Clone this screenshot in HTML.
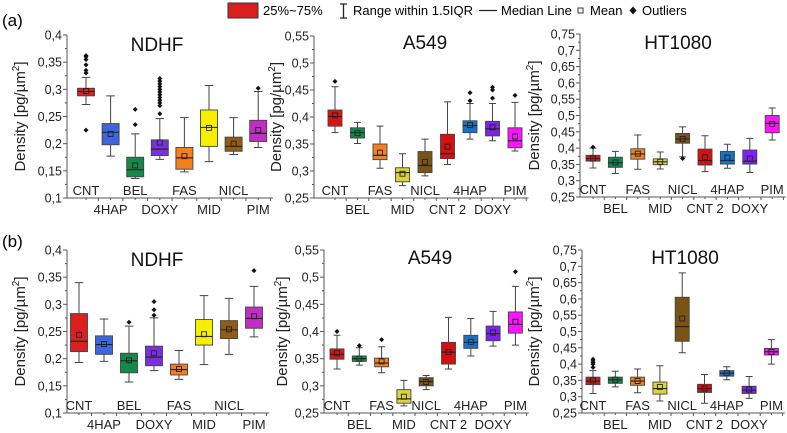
<!DOCTYPE html>
<html><head><meta charset="utf-8">
<style>
body{margin:0;background:#fff;}
svg{display:block;font-family:"Liberation Sans",Arial,sans-serif;}
</style></head>
<body>
<svg id="fig" width="787" height="433" viewBox="0 0 787 433" xmlns="http://www.w3.org/2000/svg">
  <g font-size="13">
    <rect x="228" y="3" width="30" height="15" fill="#d92020" stroke="#333"/>
    <text x="263" y="15">25%~75%</text>
    <path d="M340 4 h7 M343.5 4 v14 M340 18 h7" stroke="#222" stroke-width="1.3" fill="none"/>
    <text x="353" y="15">Range within 1.5IQR</text>
    <line x1="479" y1="10.5" x2="497" y2="10.5" stroke="#222" stroke-width="1.2"/>
    <text x="501" y="15">Median Line</text>
    <rect x="578" y="8" width="5" height="5" fill="none" stroke="#222" stroke-width="0.9"/>
    <text x="590" y="15">Mean</text>
    <path d="M633 6.5 l3.5 4 l-3.5 4 l-3.5 -4z" fill="#111"/>
    <text x="642" y="15">Outliers</text>
  </g>
  <text x="2" y="26" font-size="17">(a)</text>
  <text x="2" y="247" font-size="17">(b)</text>
</svg>
<script>
// ---- Data: row (a) NDHF ----
const aNdhfCats = ["CNT","4HAP","BEL","DOXY","FAS","MID","NICL","PIM"];
const aNdhfLo   = [0.272,0.177,0.136,0.171,0.148,0.167,0.180,0.193];
const aNdhfQ1   = [0.288,0.198,0.139,0.178,0.153,0.195,0.186,0.204];
const aNdhfMed  = [0.296,0.221,0.152,0.190,0.174,0.230,0.195,0.219];
const aNdhfQ3   = [0.302,0.237,0.175,0.207,0.193,0.262,0.212,0.243];
const aNdhfHi   = [0.322,0.288,0.218,0.246,0.248,0.307,0.248,0.296];
const aNdhfMean = [0.297,0.218,0.160,0.202,0.177,0.229,0.200,0.225];
const aNdhfOut  = [[0.225,0.33,0.335,0.345,0.355,0.36,0.362],[],[0.235,0.263],[0.255,0.27,0.275,0.28,0.285,0.29,0.295,0.30,0.305,0.31,0.315,0.32],[],[],[],[0.302]];
const aNdhfTicks = ["0,1","0,15","0,2","0,25","0,3","0,35","0,4"];
// ---- Data: row (a) A549 ----
const aA549Cats = ["CNT","BEL","FAS","MID","NICL","CNT 2","4HAP","DOXY","PIM"];
const aA549Lo   = [0.371,0.351,0.305,0.273,0.291,0.312,0.359,0.356,0.337];
const aA549Q1   = [0.383,0.361,0.321,0.280,0.297,0.323,0.371,0.365,0.343];
const aA549Med  = [0.401,0.371,0.329,0.297,0.310,0.332,0.384,0.378,0.356];
const aA549Q3   = [0.413,0.380,0.350,0.306,0.336,0.368,0.393,0.392,0.380];
const aA549Hi   = [0.456,0.390,0.383,0.332,0.359,0.428,0.425,0.425,0.427];
const aA549Mean = [0.403,0.370,0.334,0.295,0.317,0.345,0.385,0.381,0.364];
const aA549Out  = [[0.466],[],[],[],[],[],[0.430,0.445],[0.435,0.450,0.455],[0.440]];
const aA549Ticks = ["0,25","0,3","0,35","0,4","0,45","0,5","0,55"];
// ---- Data: row (a) HT1080 ----
const aHtCats = ["CNT","BEL","FAS","MID","NICL","CNT 2","4HAP","DOXY","PIM"];
const aHtLo   = [0.339,0.322,0.335,0.336,0.373,0.328,0.338,0.325,0.425];
const aHtQ1   = [0.360,0.341,0.366,0.349,0.415,0.348,0.351,0.351,0.447];
const aHtMed  = [0.368,0.355,0.382,0.358,0.428,0.362,0.362,0.360,0.476];
const aHtQ3   = [0.378,0.372,0.398,0.367,0.445,0.397,0.390,0.394,0.500];
const aHtHi   = [0.400,0.390,0.440,0.388,0.465,0.438,0.412,0.430,0.523];
const aHtMean = [0.368,0.356,0.383,0.358,0.428,0.372,0.371,0.368,0.474];
const aHtOut  = [[0.403],[],[],[],[0.368],[],[],[],[]];
const aHtTicks = ["0,25","0,3","0,35","0,4","0,45","0,5","0,55","0,6","0,65","0,7","0,75"];
// ---- Data: row (b) NDHF ----
const bNdhfCats = ["CNT","4HAP","BEL","DOXY","FAS","MID","NICL","PIM"];
const bNdhfLo   = [0.193,0.195,0.157,0.178,0.162,0.189,0.208,0.240];
const bNdhfQ1   = [0.213,0.208,0.174,0.187,0.170,0.225,0.237,0.256];
const bNdhfMed  = [0.232,0.226,0.196,0.203,0.180,0.241,0.253,0.274];
const bNdhfQ3   = [0.283,0.242,0.210,0.223,0.190,0.272,0.270,0.295];
const bNdhfHi   = [0.340,0.273,0.260,0.275,0.215,0.316,0.311,0.333];
const bNdhfMean = [0.244,0.227,0.197,0.210,0.181,0.245,0.254,0.278];
const bNdhfOut  = [[],[],[0.267],[0.28,0.29,0.305],[],[],[],[0.362]];
const bNdhfTicks = ["0,1","0,15","0,2","0,25","0,3","0,35","0,4"];
// ---- Data: row (b) A549 ----
const bA549Cats = ["CNT","BEL","FAS","MID","NICL","CNT 2","4HAP","DOXY","PIM"];
const bA549Lo   = [0.331,0.338,0.324,0.263,0.293,0.331,0.355,0.373,0.375];
const bA549Q1   = [0.349,0.345,0.335,0.268,0.300,0.340,0.369,0.383,0.397];
const bA549Med  = [0.358,0.350,0.342,0.276,0.308,0.362,0.380,0.396,0.413];
const bA549Q3   = [0.368,0.355,0.351,0.293,0.315,0.380,0.393,0.410,0.436];
const bA549Hi   = [0.393,0.370,0.372,0.310,0.319,0.426,0.424,0.437,0.483];
const bA549Mean = [0.360,0.350,0.345,0.280,0.307,0.362,0.381,0.398,0.418];
const bA549Out  = [[0.400],[0.374],[0.385],[],[],[],[],[],[0.510]];
const bA549Ticks = ["0,25","0,3","0,35","0,4","0,45","0,5","0,55"];
// ---- Data: row (b) HT1080 ----
const bHtCats = ["CNT","BEL","FAS","MID","NICL","CNT 2","4HAP","DOXY","PIM"];
const bHtLo   = [0.310,0.330,0.312,0.287,0.435,0.280,0.352,0.295,0.400];
const bHtQ1   = [0.337,0.341,0.335,0.308,0.470,0.313,0.363,0.310,0.428];
const bHtMed  = [0.348,0.352,0.348,0.325,0.515,0.325,0.372,0.320,0.438];
const bHtQ3   = [0.360,0.360,0.360,0.345,0.605,0.338,0.380,0.332,0.448];
const bHtHi   = [0.380,0.378,0.385,0.395,0.680,0.368,0.392,0.362,0.475];
const bHtMean = [0.350,0.352,0.348,0.330,0.540,0.325,0.372,0.322,0.437];
const bHtOut  = [[0.39,0.40,0.405,0.41,0.415],[],[],[],[],[],[],[],[]];
const bHtTicks = ["0,25","0,3","0,35","0,4","0,45","0,5","0,55","0,6","0,65","0,7","0,75"];

const NS = "http://www.w3.org/2000/svg";
const svg = document.getElementById("fig");
const colNdhf = {"CNT":"#dc1e1e","4HAP":"#3f65dc","BEL":"#14894a","DOXY":"#7a30e0","FAS":"#f67e1c","MID":"#f6f000","NICL":"#935c14","PIM":"#c22ec4","CNT 2":"#d01010"};
const colOther = {"CNT":"#d61616","4HAP":"#1873c6","BEL":"#0f8a4c","DOXY":"#7e22f0","FAS":"#f28026","MID":"#dcd436","NICL":"#7a5414","PIM":"#ff12ff","CNT 2":"#d41010"};

function mk(tag, attrs, parent){
  const e = document.createElementNS(NS, tag);
  for (const k in attrs) e.setAttribute(k, attrs[k]);
  parent.appendChild(e);
  return e;
}

function panel(cfg){
  const g = mk("g", {}, svg);
  
  
  const y = v => cfg.yBot - (v - cfg.vmin) / (cfg.vmax - cfg.vmin) * (cfg.yBot - cfg.yTop);
  const x = i => cfg.x0 + i * cfg.step;
  const n = cfg.cats.length;
  const xEnd = x(n - 1) + cfg.step * 0.6;
  const ax = mk("path", {d:`M${cfg.ax} ${cfg.yTop} V${cfg.yBot} H${xEnd}`, stroke:"#555", "stroke-width":1, fill:"none"}, g);
  
  
  const nt = cfg.ticks.length;
  for (let k = 0; k < nt; k++){
    const v = cfg.vmin + k * (cfg.vmax - cfg.vmin) / (nt - 1);
    const yy = y(v);
    mk("line", {x1:cfg.ax-4, x2:cfg.ax, y1:yy, y2:yy, stroke:"#555"}, g);
    if (k < nt - 1){
      const ym = y(v + (cfg.vmax - cfg.vmin) / (nt - 1) / 2);
      mk("line", {x1:cfg.ax-2, x2:cfg.ax, y1:ym, y2:ym, stroke:"#555"}, g);
    }
    const t = mk("text", {x:cfg.ax-5, y:yy+4.5, "text-anchor":"end", "font-size":12.5, fill:"#222"}, g);
    t.textContent = cfg.ticks[k];
    
    
  }
  const yt = mk("text", {x:0, y:0, "text-anchor":"middle", "font-size":15, fill:"#222",
    transform:`translate(${cfg.ytx},${(cfg.yTop+cfg.yBot)/2}) rotate(-90)`}, g);
  yt.innerHTML = 'Density [pg/µm<tspan font-size="10" dy="-6">2</tspan><tspan dy="6">]</tspan>';
  
  
  const tt = mk("text", {x:cfg.tx, y:cfg.ty, "text-anchor":"middle", "font-size":19, fill:"#111"}, g);
  tt.textContent = cfg.title;
  
  
  for (let i = 0; i < n; i++){
    const cx = x(i), w = cfg.bw;
    mk("line", {x1:cx + cfg.step/2, x2:cx + cfg.step/2, y1:cfg.yBot, y2:cfg.yBot+3, stroke:"#555"}, g);
    mk("line", {x1:cx, x2:cx, y1:cfg.yBot, y2:cfg.yBot+2, stroke:"#555"}, g);
    const bg = mk("g", {}, g);
    
    
    const wl = w * 0.5;
    mk("path", {d:`M${cx} ${y(cfg.hi[i])} V${y(cfg.q3[i])} M${cx} ${y(cfg.q1[i])} V${y(cfg.lo[i])} M${cx-wl/2} ${y(cfg.hi[i])} h${wl} M${cx-wl/2} ${y(cfg.lo[i])} h${wl}`,
      stroke:"#444", "stroke-width":1, fill:"none"}, bg);
    mk("rect", {x:cx-w/2, y:y(cfg.q3[i]), width:w, height:Math.max(1, y(cfg.q1[i]) - y(cfg.q3[i])),
      fill:cfg.col[cfg.cats[i]], stroke:"#444", "stroke-width":0.9}, bg);
    mk("line", {x1:cx-w/2, x2:cx+w/2, y1:y(cfg.med[i]), y2:y(cfg.med[i]), stroke:"#222", "stroke-width":1.1}, bg);
    mk("rect", {x:cx-2.5, y:y(cfg.mean[i])-2.5, width:5, height:5, fill:"none", stroke:"#222", "stroke-width":0.9}, bg);
    for (const o of cfg.out[i]){
      const yy = y(o);
      mk("path", {d:`M${cx} ${yy-2.5} l2.5 2.5 l-2.5 2.5 l-2.5 -2.5z`, fill:"#111"}, bg);
    }
    const lbl = mk("text", {x:cx, y: i % 2 === 0 ? cfg.yBot - 3 : cfg.yBot + 16, "text-anchor":"middle", "font-size":13, fill:"#222"}, g);
    lbl.textContent = cfg.cats[i];
    
    
  }
}

panel({name:"panel-a-ndhf", title:"NDHF", cats:aNdhfCats, lo:aNdhfLo, q1:aNdhfQ1, med:aNdhfMed, q3:aNdhfQ3, hi:aNdhfHi, mean:aNdhfMean, out:aNdhfOut, ticks:aNdhfTicks,
  vmin:0.1, vmax:0.4, ax:67, yTop:35, yBot:198, x0:86, step:24.6, bw:17, tx:157, ty:51, ytx:25, col:colNdhf});
panel({name:"panel-a-a549", title:"A549", cats:aA549Cats, lo:aA549Lo, q1:aA549Q1, med:aA549Med, q3:aA549Q3, hi:aA549Hi, mean:aA549Mean, out:aA549Out, ticks:aA549Ticks,
  vmin:0.25, vmax:0.55, ax:314, yTop:36, yBot:198, x0:335, step:22.5, bw:14, tx:425, ty:49, ytx:281, col:colOther});
panel({name:"panel-a-ht1080", title:"HT1080", cats:aHtCats, lo:aHtLo, q1:aHtQ1, med:aHtMed, q3:aHtQ3, hi:aHtHi, mean:aHtMean, out:aHtOut, ticks:aHtTicks,
  vmin:0.25, vmax:0.75, ax:580, yTop:34, yBot:197, x0:593, step:22.4, bw:14, tx:678, ty:49, ytx:539, col:colOther});
panel({name:"panel-b-ndhf", title:"NDHF", cats:bNdhfCats, lo:bNdhfLo, q1:bNdhfQ1, med:bNdhfMed, q3:bNdhfQ3, hi:bNdhfHi, mean:bNdhfMean, out:bNdhfOut, ticks:bNdhfTicks,
  vmin:0.1, vmax:0.4, ax:67, yTop:250, yBot:413, x0:79, step:25, bw:17, tx:157, ty:266, ytx:25, col:colNdhf});
panel({name:"panel-b-a549", title:"A549", cats:bA549Cats, lo:bA549Lo, q1:bA549Q1, med:bA549Med, q3:bA549Q3, hi:bA549Hi, mean:bA549Mean, out:bA549Out, ticks:bA549Ticks,
  vmin:0.25, vmax:0.55, ax:324, yTop:250, yBot:413, x0:337, step:22.3, bw:14, tx:430, ty:264, ytx:287, col:colOther});
panel({name:"panel-b-ht1080", title:"HT1080", cats:bHtCats, lo:bHtLo, q1:bHtQ1, med:bHtMed, q3:bHtQ3, hi:bHtHi, mean:bHtMean, out:bHtOut, ticks:bHtTicks,
  vmin:0.25, vmax:0.75, ax:582, yTop:250, yBot:413, x0:593, step:22.3, bw:14, tx:685, ty:264, ytx:539, col:colOther});
</script>
</body></html>
